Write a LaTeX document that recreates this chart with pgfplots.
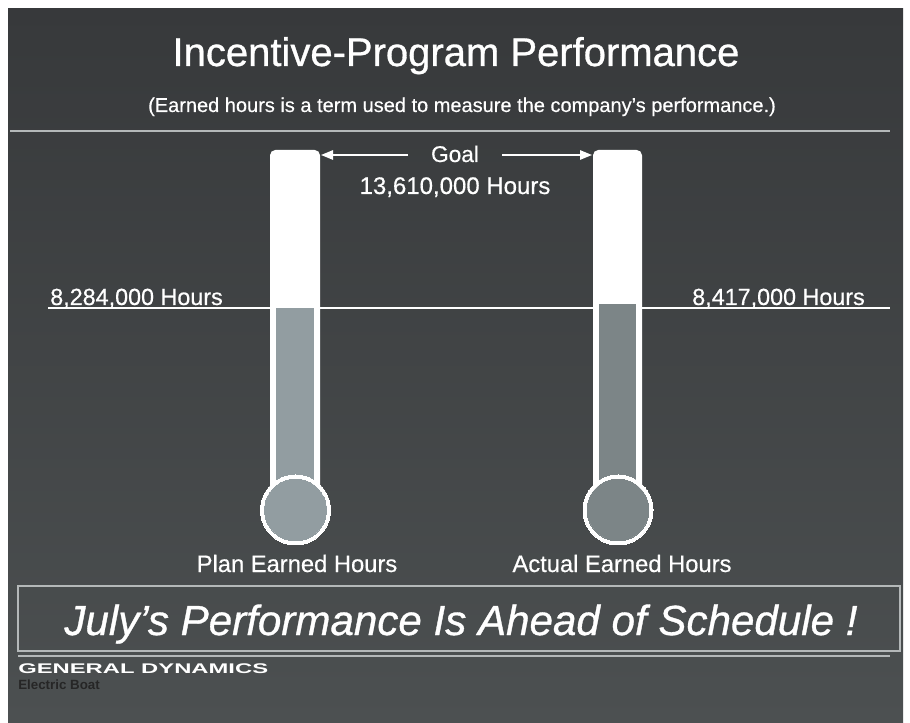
\documentclass[border=0pt]{standalone}
\usepackage{pgfplots}
\pgfplotsset{compat=1.18}
\usepackage{fontspec}
\setmainfont{Liberation Sans}
\usetikzlibrary{arrows.meta}
\definecolor{bgtop}{HTML}{37393B}
\definecolor{bgbot}{HTML}{4C5051}
\definecolor{fillA}{HTML}{929DA1}
\definecolor{fillB}{HTML}{7C8587}
\definecolor{rulec}{HTML}{B4B8B9}
\newcommand{\fs}[1]{\fontsize{#1}{1.2\dimexpr#1\relax}\selectfont}
\begin{document}
\begin{tikzpicture}
\begin{scope}[x=0.75pt,y=-0.75pt]
\fill[white] (0,0) rectangle (910,723);
\shade[top color=bgtop, bottom color=bgbot] (8,9) rectangle (903,723);
% rule under subtitle
\draw[rulec, line width=1.6pt] (10,131) -- (890,131);
\end{scope}
\begin{axis}[at={(0,0)}, anchor=north west, scale only axis,
  width=682.5pt, height=542.25pt,
  xmin=0, xmax=910, ymin=-5.703, ymax=18.665,
  axis lines=none, clip=false]
% plan level line (millions of hours)
\addplot[white, line width=1.1pt] coordinates {(48,8.284) (890,8.284)};
% tubes up to goal 13.61 M hours
\addplot[white, fill=white, draw=none, rounded corners=4pt] coordinates {(270,1.476) (270,13.61) (320,13.61) (320,1.476)};
\addplot[white, fill=white, draw=none, rounded corners=4pt] coordinates {(593,1.476) (593,13.61) (642,13.61) (642,1.476)};
% bulbs
\addplot[white, only marks, mark=*, mark size=26.25pt, mark options={fill=white, draw=white, line width=0pt}] coordinates {(295.5,1.476) (618,1.476)};
\addplot[fillA, only marks, mark=*, mark size=23.2pt, mark options={fill=fillA, draw=fillA, line width=0pt}] coordinates {(295.5,1.476)};
\addplot[fillB, only marks, mark=*, mark size=23.2pt, mark options={fill=fillB, draw=fillB, line width=0pt}] coordinates {(618,1.476)};
% columns: plan 8.284 M, actual 8.417 M
\addplot[fillA, fill=fillA, draw=none] coordinates {(276,1.476) (276,8.284) (314,8.284) (314,1.476)};
\addplot[fillB, fill=fillB, draw=none] coordinates {(599,1.476) (599,8.417) (636,8.417) (636,1.476)};
\end{axis}
\begin{scope}[x=0.75pt,y=-0.75pt, every node/.style={text=white, inner sep=0pt}]
\node[anchor=base] at (456,66) {\fs{30pt}\addfontfeatures{FakeBold=0.8}Incentive-Program Performance};
\node[anchor=base] at (462,112) {\fs{15pt}\addfontfeatures{FakeBold=0.4}(Earned hours is a term used to measure the company’s performance.)};
\node[anchor=base] at (455,162) {\fs{17pt}\addfontfeatures{FakeBold=0.5}Goal};
\node[anchor=base] at (455,194) {\fs{18pt}\addfontfeatures{FakeBold=0.5}13,610,000 Hours};
\draw[white, line width=1.3pt, -{Triangle[length=9pt,width=7pt]}] (408,155) -- (321,155);
\draw[white, line width=1.3pt, -{Triangle[length=9pt,width=7pt]}] (502,155) -- (592,155);
\node[anchor=base west] at (50,305) {\fs{17.5pt}\addfontfeatures{FakeBold=0.5}8,284,000 Hours};
\node[anchor=base west] at (692,305) {\fs{17.5pt}\addfontfeatures{FakeBold=0.5}8,417,000 Hours};
\node[anchor=base] at (297,572) {\fs{17.8pt}\addfontfeatures{FakeBold=0.5}Plan Earned Hours};
\node[anchor=base] at (622,572) {\fs{17.8pt}\addfontfeatures{FakeBold=0.5}Actual Earned Hours};
\draw[rulec, line width=1.4pt] (18,586) rectangle (900,651);
\node[anchor=base] at (461,635) {\fs{31.6pt}\itshape\addfontfeatures{FakeBold=0.8}July’s Performance Is Ahead of Schedule !};
\draw[rulec, line width=1.4pt] (18,656) -- (890,656);
\node[anchor=base west] at (18,673) {\scalebox{1.7}[1]{\fs{10.5pt}\bfseries GENERAL DYNAMICS}};
\node[anchor=base west, text=black!85] at (18,689) {\fs{10pt}\bfseries Electric Boat};
\pgfresetboundingbox
\path[use as bounding box] (0,0) rectangle (910,723);
\end{scope}
\end{tikzpicture}
\end{document}
